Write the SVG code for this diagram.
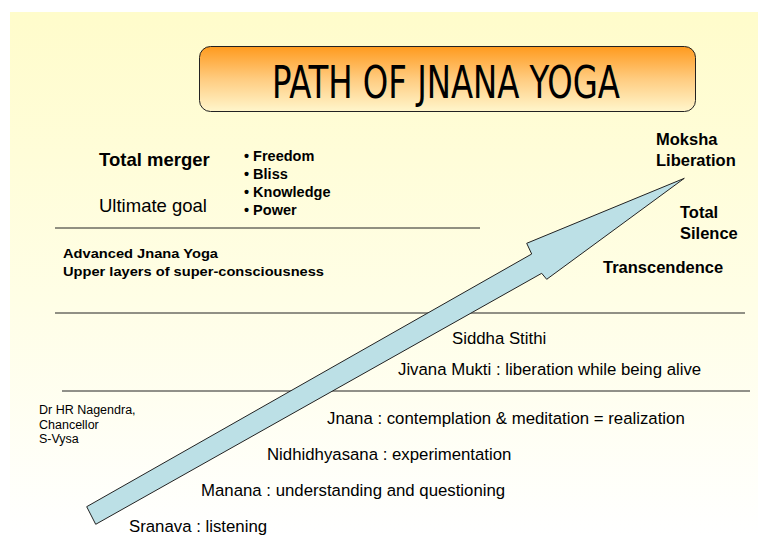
<svg xmlns="http://www.w3.org/2000/svg" width="758" height="535" viewBox="0 0 758 535">
<style>
text{font-family:"Liberation Sans",Arial,sans-serif;fill:#000}
.b{font-weight:bold}
.lbl{font-size:16.8px}
.rule{stroke:#222;stroke-width:1}
</style>
<defs>
<linearGradient id="bg" x1="0" y1="0" x2="0" y2="1">
<stop offset="0" stop-color="#FFFCCB"/>
<stop offset="0.55" stop-color="#FFFEE6"/>
<stop offset="1" stop-color="#FFFFFF"/>
</linearGradient>
<linearGradient id="tg" x1="0" y1="0" x2="0" y2="1">
<stop offset="0" stop-color="#FF9A1E"/>
<stop offset="0.5" stop-color="#FFCC80"/>
<stop offset="1" stop-color="#FFF6CC"/>
</linearGradient>
</defs>
<rect width="758" height="535" fill="#FFFFFF"/>
<rect x="10" y="12" width="748" height="523" fill="url(#bg)"/>
<g id="title">
<rect x="199.5" y="46.5" width="496" height="65" rx="11" fill="url(#tg)" stroke="#222" stroke-width="1"/>
<text x="446" y="98" font-size="44" text-anchor="middle" textLength="348" lengthAdjust="spacingAndGlyphs" style="font-family:'DejaVu Sans Condensed','DejaVu Sans',sans-serif">PATH OF JNANA YOGA</text>
</g>
<g id="rules">
<line class="rule" x1="55" y1="228" x2="480" y2="228"/>
<line class="rule" x1="55" y1="313" x2="745" y2="313"/>
<line class="rule" x1="62" y1="391" x2="750" y2="391"/>
</g>
<g id="connectors">
<polygon points="86.7,506.7 531.7,254 526.7,243.3 684.3,178.3 546.7,279.3 541.7,273.3 95.7,524.3" fill="#BCE0E6" stroke="#222" stroke-width="1" stroke-linejoin="miter"/>
</g>
<g id="goal">
<text class="b" x="99" y="166" font-size="18.5">Total merger</text>
<text x="99" y="212" font-size="18.5">Ultimate goal</text>
</g>
<g id="bullets">
<text class="b" x="244" y="161" font-size="14.5">• Freedom</text>
<text class="b" x="244" y="179" font-size="14.5">• Bliss</text>
<text class="b" x="244" y="197" font-size="14.5">• Knowledge</text>
<text class="b" x="244" y="215" font-size="14.5">• Power</text>
</g>
<g id="advanced">
<text class="b" x="63" y="258" font-size="13.5" textLength="155" lengthAdjust="spacingAndGlyphs">Advanced Jnana Yoga</text>
<text class="b" x="63" y="275.5" font-size="13.5" textLength="261" lengthAdjust="spacingAndGlyphs">Upper layers of super-consciousness</text>
</g>
<g id="moksha">
<text class="b" x="656" y="145" font-size="16.5">Moksha</text>
<text class="b" x="656" y="166" font-size="16.5">Liberation</text>
</g>
<g id="silence">
<text class="b" x="680" y="218" font-size="16.5">Total</text>
<text class="b" x="680" y="239" font-size="16.5">Silence</text>
</g>
<g id="transcendence">
<text class="b" x="603" y="273" font-size="16.5">Transcendence</text>
</g>
<g id="siddha"><text class="lbl" x="452" y="344">Siddha Stithi</text></g>
<g id="jivana"><text class="lbl" x="398" y="375">Jivana Mukti : liberation while being alive</text></g>
<g id="jnana"><text class="lbl" x="327" y="424">Jnana : contemplation &amp; meditation = realization</text></g>
<g id="nidhi"><text class="lbl" x="267" y="460">Nidhidhyasana : experimentation</text></g>
<g id="manana"><text class="lbl" x="201" y="496">Manana : understanding and questioning</text></g>
<g id="sranava"><text class="lbl" x="129" y="532">Sranava : listening</text></g>
<g id="author">
<text x="39" y="414" font-size="12.5">Dr HR Nagendra,</text>
<text x="39" y="428.5" font-size="12.5">Chancellor</text>
<text x="39" y="443" font-size="12.5">S-Vysa</text>
</g>
</svg>
